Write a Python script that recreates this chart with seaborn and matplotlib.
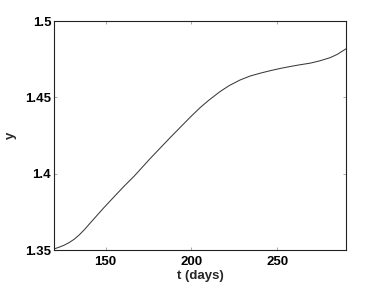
import numpy as np
import pandas as pd
import matplotlib
matplotlib.use("Agg")
import matplotlib.pyplot as plt
import seaborn as sns

t_days = [120, 122.9, 125.8, 128.7, 131.7, 134.6, 137.5, 140.4, 143.3, 149.1,
          155.0, 160.8, 166.6, 175.9, 187.6, 199.3, 205.0, 210.0, 216.7, 222.0,
          228.4, 234.0, 240.0, 246.0, 252.0, 257.5, 263.0, 269.2, 275.0, 280.8,
          285.0, 290.0]
y_vals = [1.3507, 1.3518, 1.3531, 1.3548, 1.3570, 1.3598, 1.3631, 1.3668, 1.3705, 1.3778,
          1.3849, 1.3918, 1.3983, 1.4098, 1.4236, 1.4370, 1.4432, 1.4480, 1.4538, 1.4577,
          1.4614, 1.4639, 1.4658, 1.4675, 1.4690, 1.4702, 1.4713, 1.4724, 1.4740, 1.4760,
          1.4782, 1.4818]
x_ticks = [150, 200, 250]
y_ticks = [1.35, 1.4, 1.45, 1.5]
y_tick_labels = ["1.35", "1.4", "1.45", "1.5"]

sns.set_style("ticks")
plt.rcParams['font.family'] = ['Liberation Sans', 'DejaVu Sans']

df = pd.DataFrame({"t": t_days, "y": y_vals})

fig = plt.figure(figsize=(3.82, 2.87), dpi=100)
ax = fig.add_axes([0.1414, 0.1289, 0.7644, 0.7979])
sns.lineplot(data=df, x="t", y="y", ax=ax, color="#3a3a3a", linewidth=0.75)

ax.set_xlim(120, 290)
ax.set_ylim(1.35, 1.5)
ax.set_xticks(x_ticks)
ax.set_xticklabels([str(v) for v in x_ticks], fontsize=9.5, fontweight="bold")
ax.set_yticks(y_ticks)
ax.set_yticklabels(y_tick_labels, fontsize=9.5, fontweight="bold")
ax.tick_params(direction="in", length=2.5, width=0.5, top=True, right=True,
               colors="#888888", labelcolor="black")
ax.tick_params(axis="x", pad=4)
ax.tick_params(axis="y", pad=2)
for s in ax.spines.values():
    s.set_visible(True)
    s.set_linewidth(0.8)
    s.set_color("#222222")
ax.set_xlabel("t (days)", fontsize=9.5, fontweight="bold", labelpad=2)
ax.set_ylabel("y", fontsize=9.5, fontweight="bold", labelpad=6)

fig.savefig("out.png", dpi=100)
